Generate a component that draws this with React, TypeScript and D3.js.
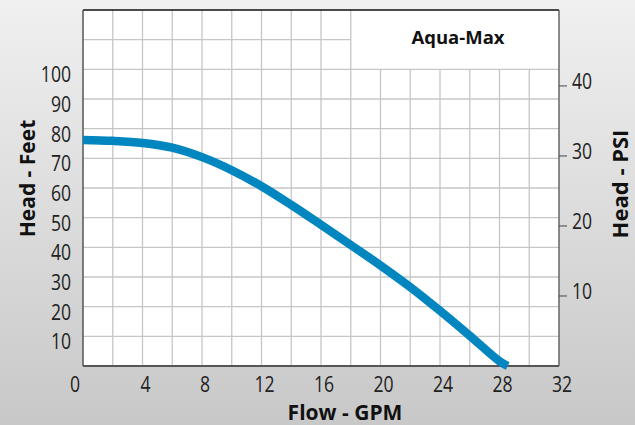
import React from "react";
import * as d3 from "d3";

const flowGpm = [0, 2, 4, 6, 8, 10, 12, 14, 16, 18, 20, 22, 24, 26, 28, 28.55];
const headFeet = [76.2, 75.9, 75.2, 73.6, 70.4, 66.0, 60.6, 54.3, 47.6, 40.8, 33.9, 26.6, 18.6, 10.2, 1.6, 0];
const xTickValues = [0, 4, 8, 12, 16, 20, 24, 28, 32];
const feetTickValues = [10, 20, 30, 40, 50, 60, 70, 80, 90, 100];
const psiTickValues = [10, 20, 30, 40];
const vGridValues = d3.range(2, 32, 2);
const hGridValues = d3.range(10, 120, 10);
const FT_PER_PSI = 2.36;

const W = 635;
const H = 425;
const L = 83, R = 559, T = 10, B = 366;

export default function App() {
  const x = d3.scaleLinear().domain([0, 32]).range([L, R]);
  const y = d3.scaleLinear().domain([0, 120]).range([B, T]);
  const yPsi = d3.scaleLinear().domain([0, 120 / FT_PER_PSI]).range([B, T]);
  const pts = flowGpm.map((f, i) => [f, headFeet[i]] as [number, number]);
  const line = d3
    .line<[number, number]>()
    .x((d) => x(d[0]))
    .y((d) => y(d[1]))
    .curve(d3.curveCatmullRom.alpha(0.5));

  const tickFont = "'Open Sans', 'DejaVu Sans', sans-serif";
  const boxX = 18;
  const boxY = 100;

  return (
    <div style={{ position: "absolute", left: 0, top: 0, width: W, height: H }}>
      <svg width={W} height={H} style={{ display: "block" }}>
        <defs>
          <linearGradient id="bg" x1="0" y1="0" x2="0" y2="1">
            <stop offset="0" stopColor="#f0f0f0" />
            <stop offset="1" stopColor="#c8c8c8" />
          </linearGradient>
        </defs>
        <rect x={0} y={0} width={W} height={H} fill="url(#bg)" />
        <rect x={L} y={T} width={R - L} height={B - T} fill="#ffffff" />

        {/* grid */}
        {vGridValues.map((v) => (
          <line
            key={"vg" + v}
            x1={x(v)}
            x2={x(v)}
            y1={B}
            y2={v > boxX ? y(boxY) : T}
            stroke="#c6c6c6"
            strokeWidth={1.3}
          />
        ))}
        {hGridValues.map((v) => (
          <line
            key={"hg" + v}
            x1={L}
            x2={v > boxY ? x(boxX) : R}
            y1={y(v)}
            y2={y(v)}
            stroke="#c6c6c6"
            strokeWidth={1.3}
          />
        ))}

        {/* frame */}
        <line x1={L} x2={R} y1={T} y2={T} stroke="#111" strokeWidth={1.5} />
        <line x1={L} x2={L} y1={T} y2={B} stroke="#555" strokeWidth={1.5} />
        <line x1={R} x2={R} y1={T} y2={B} stroke="#666" strokeWidth={1.5} />
        <line x1={L} x2={R} y1={B} y2={B} stroke="#555" strokeWidth={2} />

        {/* curve */}
        <path d={line(pts) || ""} fill="none" stroke="#0286c0" strokeWidth={8.5} strokeLinecap="butt" />

        {/* left ticks */}
        {feetTickValues.map((v) => (
          <text
            key={"ft" + v}
            transform={`translate(71,${y(v) + 13}) scale(0.8,1)`}
            textAnchor="end"
            fontFamily={tickFont}
            fontSize={22}
            fill="#222"
          >
            {v}
          </text>
        ))}

        {/* bottom ticks */}
        {xTickValues.map((v) => (
          <text
            key={"xt" + v}
            transform={`translate(${x(v) + (v === 0 ? -8 : 3)},392) scale(0.8,1)`}
            textAnchor="middle"
            fontFamily={tickFont}
            fontSize={22}
            fill="#222"
          >
            {v}
          </text>
        ))}

        {/* right PSI ticks */}
        {psiTickValues.map((v) => (
          <g key={"pt" + v}>
            <line x1={R} x2={R + 8} y1={yPsi(v)} y2={yPsi(v)} stroke="#444" strokeWidth={1} />
            <text
              transform={`translate(572,${yPsi(v) + 3.5}) scale(0.8,1)`}
              textAnchor="start"
              fontFamily={tickFont}
              fontSize={22}
              fill="#222"
            >
              {v}
            </text>
          </g>
        ))}

        {/* titles */}
        <text
          transform="translate(35,178.5) rotate(-90)"
          textAnchor="middle"
          fontFamily={tickFont}
          fontWeight="bold"
          fontSize={21}
          fill="#111"
        >
          Head - Feet
        </text>
        <text
          transform="translate(628,184) rotate(-90)"
          textAnchor="middle"
          fontFamily={tickFont}
          fontWeight="bold"
          fontSize={22}
          fill="#111"
        >
          Head - PSI
        </text>
        <text
          x={345}
          y={420}
          textAnchor="middle"
          fontFamily={tickFont}
          fontWeight="bold"
          fontSize={21}
          fill="#111"
        >
          Flow - GPM
        </text>
        <text
          x={458}
          y={44}
          textAnchor="middle"
          fontFamily={tickFont}
          fontWeight="bold"
          fontSize={18.5}
          fill="#111"
        >
          Aqua-Max
        </text>
      </svg>
    </div>
  );
}
